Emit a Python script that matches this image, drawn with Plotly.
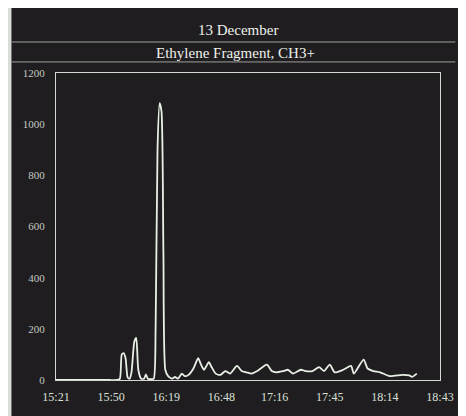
import plotly.graph_objects as go

# minutes after 15:21
minutes = [0, 28.0, 32.1, 33.6, 34.6, 35.6, 36.6, 37.7, 38.7, 39.7, 41.2, 42.2, 43.3, 44.8,
           46.3, 47.3, 48.3, 49.9, 51.4, 52.4, 53.4, 54.5, 55.5, 56.5, 57.5, 59.0, 61.1,
           62.6, 64.1, 66.2, 67.7, 69.7, 72.3, 74.8, 76.3, 77.9, 80.4, 81.9, 84.0, 86.5,
           89.1, 91.6, 95.2, 97.7, 100.3, 102.8, 105.9, 110.9, 113.5, 116.0, 119.6, 122.1,
           124.7, 128.8, 131.3, 134.9, 138.4, 141.0, 144.0, 146.6, 151.1, 155.2, 156.7,
           161.8, 163.9, 166.9, 170.5, 175.6, 182.2, 185.8, 187.3, 189.8]
counts = [0, 0, 0, 5, 100, 105, 85, 10, 5, 30, 150, 165, 40, 5,
          5, 22, 5, 3, 5, 200, 900, 1082, 1050, 500, 40, 15, 5,
          12, 5, 25, 15, 20, 45, 85, 60, 40, 70, 50, 25, 20,
          35, 25, 55, 35, 30, 25, 35, 60, 35, 30, 35, 40,
          25, 40, 35, 35, 50, 35, 60, 30, 40, 55, 25,
          80, 45, 35, 30, 15, 20, 18, 12, 25]

tick_minutes = [0, 29, 58, 87, 115, 144, 173, 202]
tick_labels = ["15:21", "15:50", "16:19", "16:48", "17:16", "17:45", "18:14", "18:43"]
y_ticks = [0, 200, 400, 600, 800, 1000, 1200]

title_1 = "13 December"
title_2 = "Ethylene Fragment, CH3+"

bg = "#1f1d1f"
fg = "#d4d8d2"
font = "Liberation Serif"

fig = go.Figure()
fig.add_trace(go.Scatter(x=minutes, y=counts, mode="lines",
                         line=dict(color="#e8f0e6", width=1.8, shape="spline", smoothing=0.6),
                         showlegend=False))

fig.update_layout(
    width=458, height=408,
    margin=dict(l=48, r=14, t=65, b=36),
    paper_bgcolor=bg, plot_bgcolor=bg,
    font=dict(family=font, color=fg, size=12),
    xaxis=dict(range=[0, 202], tickvals=tick_minutes, ticktext=tick_labels,
               showgrid=False, zeroline=False, showline=True, mirror=True,
               linecolor=fg, linewidth=1, ticks="", ticklabelstandoff=6,
               tickfont=dict(size=12, color="#dce0d8")),
    yaxis=dict(range=[0, 1200], tickvals=y_ticks, showgrid=False, zeroline=False,
               showline=True, mirror=True, linecolor=fg, linewidth=1, ticks="",
               ticklabelstandoff=8, tickfont=dict(size=11, color="#c4c9c2")),
    shapes=[
        dict(type="rect", xref="paper", yref="paper", x0=-0.13, x1=-0.116, y0=-0.2, y1=1.3,
             fillcolor="#d9ddd8", line=dict(width=0), layer="below"),
        dict(type="line", xref="paper", yref="paper", x0=-0.116, x1=1.04, y0=1.101, y1=1.101,
             line=dict(color="#9da29c", width=1)),
        dict(type="line", xref="paper", yref="paper", x0=-0.116, x1=1.04, y0=1.036, y1=1.036,
             line=dict(color="#9da29c", width=1)),
    ],
    annotations=[
        dict(text=title_1, xref="paper", yref="paper", x=0.475, y=1.14, yanchor="middle",
             showarrow=False, font=dict(size=15, color="#eef2ec", family=font)),
        dict(text=title_2, xref="paper", yref="paper", x=0.468, y=1.065, yanchor="middle",
             showarrow=False, font=dict(size=15, color="#eef2ec", family=font)),
    ],
)

fig.write_html("out.html")
